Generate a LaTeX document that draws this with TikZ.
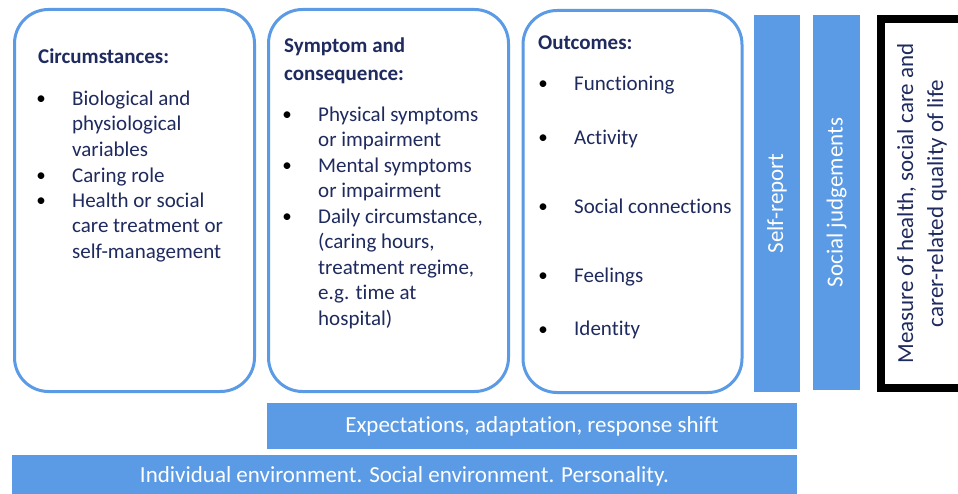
\documentclass[tikz,border=0pt]{standalone}
\usepackage{fontspec}
\setmainfont{Carlito}[Ligatures=NoCommon]
\usetikzlibrary{positioning}
\definecolor{barblue}{RGB}{91,155,229}
\definecolor{inkblue}{RGB}{31,42,94}

% one bullet line: x, y (first baseline), name, text
\newcommand{\bitem}[4]{%
  \node[dot] at (#1,#2) {\textbullet};
  \node[entry] (#3) at (#1+31,#2-18) {\strut #4};}

\begin{document}
\begin{tikzpicture}[x=1pt, y=-1pt,
    panel/.style={draw=barblue, line width=3pt, rounded corners=34pt, fill=white,
                  minimum width=240pt, minimum height=382pt},
    bar/.style={fill=barblue, text=white, inner sep=0pt,
                font=\fontsize{23}{28}\selectfont},
    head/.style={anchor=north west, inner sep=0pt, align=left, text=inkblue,
                 font=\fontsize{21}{28}\selectfont\bfseries},
    entry/.style={anchor=north west, inner sep=0pt, align=left, text=inkblue,
                  font=\fontsize{21}{25.5}\selectfont},
    dot/.style={anchor=base, inner sep=0pt, text=black,
                font=\fontsize{19}{25.5}\selectfont}]
\useasboundingbox (0,0) rectangle (958,494);

\node[panel] (circ) at (134.5,200.5) {};
\node[panel] (symp) at (388.5,200.5) {};
\node[panel, minimum width=219pt] (outc) at (632.5,201.5) {};

\node[head] (circhead) at (38,62-18) {\strut Circumstances:};
\bitem{41}{105}{bio}{Biological and\\physiological\\variables}
\bitem{41}{182}{care}{Caring role}
\bitem{41}{207}{treat}{Health or social\\care treatment or\\self-management}

\node[head] (symphead) at (284,51-18) {\strut Symptom and\\consequence:};
\bitem{287}{121}{phys}{Physical symptoms\\or impairment}
\bitem{287}{172}{ment}{Mental symptoms\\or impairment}
\bitem{287}{223}{daily}{Daily circumstance,\\(caring hours,\\treatment regime,\\e.g. time at\\hospital)}

\node[head] (outchead) at (538,48-18) {\strut Outcomes:};
\bitem{543}{90}{func}{Functioning}
\bitem{543}{144}{act}{Activity}
\bitem{543}{213}{soc}{Social connections}
\bitem{543}{282}{feel}{Feelings}
\bitem{543}{335}{ident}{Identity}

\node[bar, rotate=90, minimum width=377pt, minimum height=46pt] (selfrep) at (777,203.5) {Self-report};
\node[bar, rotate=90, minimum width=375pt, minimum height=47pt] (judge) at (836.5,202.5) {Social judgements};
\node[rotate=90, draw=black, line width=8pt, minimum width=369pt, minimum height=82pt,
      align=center, text=inkblue, font=\fontsize{23}{30}\selectfont] (measure) at (922,203.5)
  {Measure of health, social care and\\carer-related quality of life};

\node[bar, minimum width=530pt, minimum height=46pt] (expect) at (532,426) {Expectations, adaptation, response shift};
\node[bar, minimum width=785pt, minimum height=42pt] (indiv) at (404.5,476) {Individual environment. Social environment. Personality.};
\end{tikzpicture}
\end{document}
